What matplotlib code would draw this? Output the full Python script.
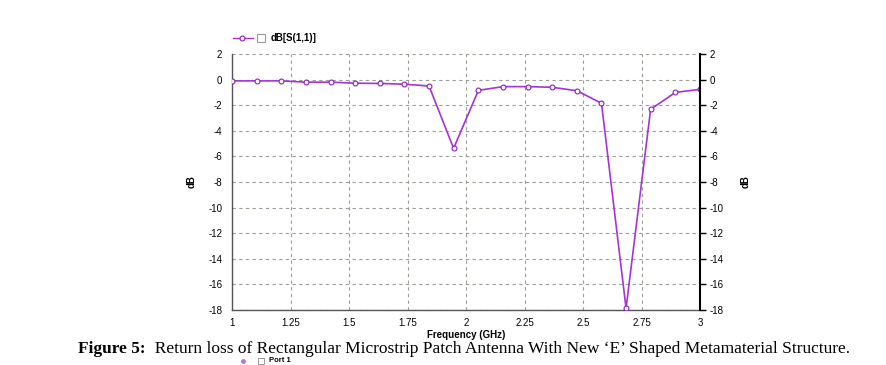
import numpy as np
import matplotlib
matplotlib.use("Agg")
import matplotlib.pyplot as plt
from matplotlib.lines import Line2D
from matplotlib.patches import Rectangle

# Data
freq_ghz = [1.000, 1.105, 1.211, 1.316, 1.421, 1.526, 1.632, 1.737, 1.842, 1.947,
            2.053, 2.158, 2.263, 2.368, 2.474, 2.579, 2.684, 2.789, 2.895, 3.000]
s11_db = [-0.10, -0.10, -0.10, -0.20, -0.20, -0.28, -0.30, -0.36, -0.50, -5.37,
          -0.84, -0.55, -0.55, -0.60, -0.87, -1.85, -17.87, -2.32, -1.00, -0.76]
x_ticks = [1, 1.25, 1.5, 1.75, 2, 2.25, 2.5, 2.75, 3]
x_tick_labels = ["1", "1.25", "1.5", "1.75", "2", "2.25", "2.5", "2.75", "3"]
y_ticks = list(range(-18, 3, 2))
series_label = "dB[S(1,1)]"
caption_bold = "Figure 5:"
caption_rest = "  Return loss of Rectangular Microstrip Patch Antenna With New \u2018E\u2019 Shaped Metamaterial Structure."

plt.rcParams['font.family'] = ['Liberation Sans', 'DejaVu Sans']
plt.rcParams['axes.unicode_minus'] = False

W, H = 886, 365
fig = plt.figure(figsize=(W / 100, H / 100), dpi=100)
ax = fig.add_axes([232 / W, 1 - 310 / H, (700 - 232) / W, (310 - 54) / H])

line_color = '#a633d6'
ax.plot(freq_ghz, s11_db, color=line_color, lw=1.2, marker='o', ms=3.5,
        mfc='white', mec='#8a1fc0', mew=0.8, zorder=3)

ax.set_xlim(1, 3)
ax.set_ylim(-18, 2)
ax.set_xticks(x_ticks)
ax.set_xticklabels(x_tick_labels)
ax.set_yticks(y_ticks)
ax.grid(True, color='#9a9f96', ls=(0, (3, 3)), lw=0.8)
ax.tick_params(axis='both', length=0, labelsize=7, pad=7)
ax.tick_params(axis='x', pad=6)
for s in ['left', 'bottom']:
    ax.spines[s].set_color('#555555')
    ax.spines[s].set_linewidth(1.0)
ax.spines['top'].set_visible(False)
ax.spines['right'].set_visible(False)
ax.set_ylabel('dB', fontsize=7, fontweight='bold', labelpad=8)
ax.set_xlabel('Frequency (GHz)', fontsize=7, fontweight='bold', labelpad=1)

ax2 = ax.twinx()
ax2.set_ylim(-18, 2)
ax2.set_yticks(y_ticks)
ax2.tick_params(axis='y', length=4, width=1, labelsize=7, pad=3, direction='out')
ax2.spines['right'].set_color('black')
ax2.spines['right'].set_linewidth(1.5)
for s in ['left', 'top', 'bottom']:
    ax2.spines[s].set_visible(False)
ax2.set_ylabel('dB', fontsize=7, fontweight='bold', labelpad=12)

# Legend (top)
ly = 1 - 38 / H
fig.add_artist(Line2D([233 / W, 253 / W], [ly, ly], color=line_color, lw=1.0,
                      transform=fig.transFigure))
fig.add_artist(Line2D([242 / W], [ly], marker='o', ms=3.5, mfc='white', mec='#8a1fc0',
                      mew=0.8, transform=fig.transFigure))
fig.add_artist(Rectangle((257 / W, ly - 4 / H), 8 / W, 8 / H, fill=False,
                         ec='#999999', lw=0.8, transform=fig.transFigure))
fig.text(271 / W, ly, series_label, fontsize=7, fontweight='bold', va='center', ha='left')

# Caption
cap_y = 1 - 349 / H
t1 = fig.text(78 / W, cap_y, caption_bold, family='Liberation Serif', fontsize=12.5,
              fontweight='bold', va='center', ha='left')
fig.canvas.draw()
bb = t1.get_window_extent()
fig.text(bb.x1 / W, cap_y, caption_rest, family='Liberation Serif', fontsize=12.5,
         va='center', ha='left')

# Second legend remnant near the bottom edge
py = 1 - 361 / H
fig.add_artist(Line2D([243 / W], [py], marker='o', ms=2.5, mfc='#c070e0', mec='#c070e0',
                      transform=fig.transFigure))
fig.add_artist(Rectangle((258 / W, py - 3 / H), 6 / W, 6 / H, fill=False,
                         ec='#999999', lw=0.7, transform=fig.transFigure))
fig.text(269 / W, py, "Port 1", fontsize=5.5, fontweight='bold', va='center', ha='left')

fig.savefig('out.png', dpi=100)
